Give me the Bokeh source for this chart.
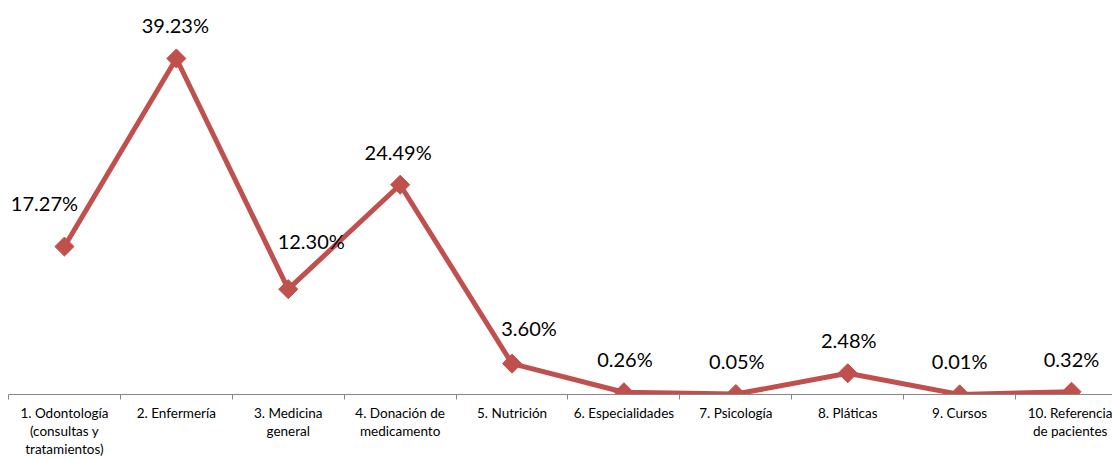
from bokeh.plotting import figure
from bokeh.models import ColumnDataSource, Range1d, FixedTicker
from bokeh.core.properties import value
from bokeh.embed import file_html
from bokeh.resources import INLINE
import numpy as np

categories = [
    "1. Odontología\n(consultas y\ntratamientos)",
    "2. Enfermería",
    "3. Medicina\ngeneral",
    "4. Donación de\nmedicamento",
    "5. Nutrición",
    "6. Especialidades",
    "7. Psicología",
    "8. Pláticas",
    "9. Cursos",
    "10. Referencia\nde pacientes",
]
percentages = [17.27, 39.23, 12.30, 24.49, 3.60, 0.26, 0.05, 2.48, 0.01, 0.32]
value_labels = ["17.27%", "39.23%", "12.30%", "24.49%", "3.60%", "0.26%", "0.05%", "2.48%", "0.01%", "0.32%"]

# label placement offsets (screen px)
label_dx = [-20, -1, 23, -2, 17, 1, 1, 1, 0, 0]
label_dy = [-44, -33, -48, -33, -36, -33, -33, -33, -33, -33]

RED = "#C0504D"
FONT = "Lato"

xs = list(range(len(categories)))
src = ColumnDataSource(dict(x=xs, y=percentages, lab=value_labels, dx=label_dx, dy=label_dy))

p = figure(width=1112, height=459, output_backend="svg", toolbar_location=None,
           x_range=Range1d(-0.5, 9.366), y_range=Range1d(0, 46.0),
           y_axis_location=None, min_border_left=8, min_border_right=0,
           min_border_top=0, min_border_bottom=0)
p.outline_line_color = None
p.grid.visible = False
p.background_fill_color = "white"
p.border_fill_color = "white"

p.line("x", "y", source=src, line_color=RED, line_width=5)
p.scatter("x", "y", source=src, marker="square", size=13.5, angle=np.pi / 4,
          fill_color=RED, line_color=RED)
p.text("x", "y", text="lab", source=src, x_offset="dx", y_offset="dy",
       text_align="center", text_baseline="middle", text_font=value(FONT),
       text_font_size="20px", text_color="#000000")

ax = p.xaxis[0]
ax.ticker = FixedTicker(ticks=xs, minor_ticks=[i - 0.5 for i in range(len(categories) + 1)])
ax.major_label_overrides = {i: c for i, c in enumerate(categories)}
ax.major_tick_out = 0
ax.major_tick_in = 0
ax.minor_tick_out = 5
ax.minor_tick_in = 0
ax.minor_tick_line_color = "#868686"
ax.axis_line_color = "#868686"
ax.axis_line_width = 1
ax.major_label_text_font = FONT
ax.major_label_text_font_size = "13.5px"
ax.major_label_text_line_height = 1.13
ax.major_label_text_color = "#000000"
ax.major_label_standoff = 5

open("out.html", "w").write(file_html(p, INLINE))
